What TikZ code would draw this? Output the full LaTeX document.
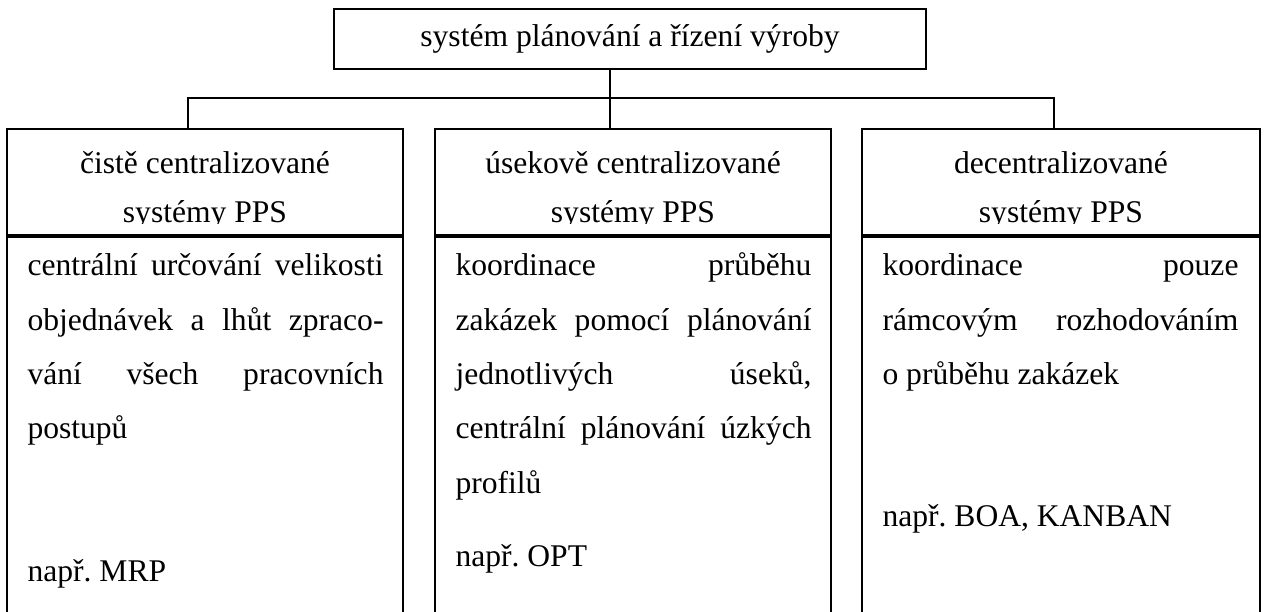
\documentclass[tikz,border=0pt]{standalone}
\usepackage{fontspec}
\setmainfont{Liberation Serif}
\usetikzlibrary{positioning}
\hbadness=10000
\hyphenpenalty=10000
\frenchspacing

\begin{document}
\begin{tikzpicture}[x=0.38pt,y=-0.38pt,every node/.style={font=\fontsize{12pt}{20.7pt}\selectfont},
  box/.style={draw,line width=.75pt,inner sep=0pt},
  headbox/.style={box,minimum width=150.48pt,minimum height=40.28pt,anchor=north},
  bodybox/.style={box,minimum width=150.48pt,minimum height=159.6pt,anchor=north},
  headtext/.style={anchor=base,inner sep=0pt},
  bodytext/.style={anchor=north west,inner sep=0pt,text width=135.28pt,align=justify},
  linka/.style={line width=.75pt}]
\useasboundingbox (0,0) rectangle (1266,612);
\node[box,minimum width=224.96pt,minimum height=22.8pt,text height=9pt,text depth=3pt] (top) at (630,39) {systém plánování a řízení výroby};
\node[headbox] (h1) at (205,128) {};
\node[headbox] (h2) at (633,128) {};
\node[headbox,minimum width=151.24pt] (h3) at (1061,128) {};
\node[bodybox] (b1) at (h1.south) {};
\node[bodybox] (b2) at (h2.south) {};
\node[bodybox,minimum width=151.24pt] (b3) at (h3.south) {};
\coordinate (hub) at (610,98);
\coordinate (busL) at (188,98);
\coordinate (busR) at (1054,98);
\draw[linka] (top.south -| hub)--(h2.north -| hub);
\draw[linka] (h1.north -| busL)--(busL)--(busR)--(h3.north -| busR);
\begin{scope}
\clip (0,0) rectangle (1266,223.5);
\node[headtext] (h1a) at (205,174) {čistě centralizované};
\node[headtext] (h1b) at (205,223) {systémy PPS};
\node[headtext] (h2a) at (633,174) {úsekově centralizované};
\node[headtext] (h2b) at (633,223) {systémy PPS};
\node[headtext] (h3a) at (1061,174) {decentralizované};
\node[headtext] (h3b) at (1061,223) {systémy PPS};
\end{scope}
\node[bodytext] (b1t) at (27,236.9) {\strut centrální určování velikosti\linebreak objednávek a lhůt zpraco-\linebreak vání všech pracovních\linebreak postupů};
\node[bodytext] (b2t) at (455,236.9) {\strut koordinace průběhu\linebreak zakázek pomocí plánování\linebreak jednotlivých úseků,\linebreak centrální plánování úzkých\linebreak profilů};
\node[bodytext] (b3t) at (882,236.9) {\strut koordinace pouze\linebreak rámcovým rozhodováním\linebreak o průběhu zakázek};
\node[headtext,anchor=base west] (n1) at (27,582) {např. MRP};
\node[headtext,anchor=base west] (n2) at (455,567) {např. OPT};
\node[headtext,anchor=base west] (n3) at (882,527) {např. BOA, KANBAN};
\end{tikzpicture}
\end{document}
